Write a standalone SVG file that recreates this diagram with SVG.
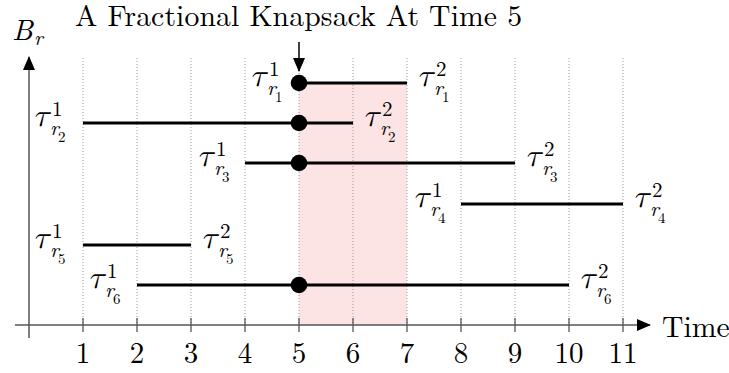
<svg xmlns="http://www.w3.org/2000/svg" width="729" height="373" viewBox="0 0 729 373" font-family="Latin Modern Roman, Liberation Serif, serif">
<style>
text{fill:#000}
.big{font-size:29.7px}
.tau{font-size:32px;font-style:italic}
.it{font-style:italic}
.s{font-size:21px}
.ss{font-size:15px}
.grid{stroke:#999;stroke-width:1;stroke-dasharray:1 2}
.axis{stroke:#555;stroke-width:1.5;fill:none}
.tick{stroke:#555;stroke-width:1.3}
.bar{stroke:#000;stroke-width:2.8}
.dot{fill:#000}
.num{font-size:29px;text-anchor:middle}
</style>
<defs>
<marker id="ah" viewBox="0 0 14 12" refX="13" refY="6" markerWidth="14" markerHeight="12" markerUnits="userSpaceOnUse" orient="auto">
<path d="M0,0 L14,6 L0,12 Z" fill="#000"/>
</marker>
</defs>
<rect id="highlight" x="299" y="83" width="108" height="242" fill="#fde4e4"/>
<g id="grid">
<line class="grid" x1="83" y1="58" x2="83" y2="325"/>
<line class="grid" x1="137" y1="58" x2="137" y2="325"/>
<line class="grid" x1="191" y1="58" x2="191" y2="325"/>
<line class="grid" x1="245" y1="58" x2="245" y2="325"/>
<line class="grid" x1="299" y1="58" x2="299" y2="325"/>
<line class="grid" x1="353" y1="58" x2="353" y2="325"/>
<line class="grid" x1="407" y1="58" x2="407" y2="325"/>
<line class="grid" x1="461" y1="58" x2="461" y2="325"/>
<line class="grid" x1="515" y1="58" x2="515" y2="325"/>
<line class="grid" x1="569" y1="58" x2="569" y2="325"/>
<line class="grid" x1="623" y1="58" x2="623" y2="325"/>
</g>
<g id="axes" font-family="Latin Modern Roman, Liberation Serif, serif">
<line class="axis" x1="15" y1="325" x2="650" y2="325" marker-end="url(#ah)"/>
<line class="axis" x1="29" y1="338" x2="29" y2="57" marker-end="url(#ah)"/>
<g class="tick">
<line x1="83" y1="318" x2="83" y2="332"/><line x1="137" y1="318" x2="137" y2="332"/><line x1="191" y1="318" x2="191" y2="332"/><line x1="245" y1="318" x2="245" y2="332"/><line x1="299" y1="318" x2="299" y2="332"/><line x1="353" y1="318" x2="353" y2="332"/><line x1="407" y1="318" x2="407" y2="332"/><line x1="461" y1="318" x2="461" y2="332"/><line x1="515" y1="318" x2="515" y2="332"/><line x1="569" y1="318" x2="569" y2="332"/><line x1="623" y1="318" x2="623" y2="332"/>
</g>
<text class="num" x="83" y="363">1</text><text class="num" x="137" y="363">2</text><text class="num" x="191" y="363">3</text><text class="num" x="245" y="363">4</text><text class="num" x="299" y="363">5</text><text class="num" x="353" y="363">6</text><text class="num" x="407" y="363">7</text><text class="num" x="461" y="363">8</text><text class="num" x="515" y="363">9</text><text class="num" x="569" y="363">10</text><text class="num" x="623" y="363">11</text>
<text class="big" x="662" y="337">Time</text>
<text><tspan class="big it" x="12" y="40">B</tspan><tspan class="s it" x="34" y="45">r</tspan></text>
</g>
<text id="title" class="big" x="75" y="26" textLength="447" lengthAdjust="spacing" font-family="Latin Modern Roman, Liberation Serif, serif">A Fractional Knapsack At Time 5</text>
<g id="r1" font-family="Latin Modern Roman, Liberation Serif, serif">
<line class="bar" x1="299" y1="83" x2="407" y2="83"/>
<circle class="dot" cx="299" cy="83" r="8.3"/>
<text><tspan class="tau" font-family="Latin Modern Math, Liberation Serif, serif" x="250" y="86">τ</tspan><tspan class="s" x="269" y="76">1</tspan><tspan class="s it" x="267" y="95">r</tspan><tspan class="ss" x="275" y="102">1</tspan></text>
<text><tspan class="tau" font-family="Latin Modern Math, Liberation Serif, serif" x="417" y="86">τ</tspan><tspan class="s" x="436" y="76">2</tspan><tspan class="s it" x="434" y="95">r</tspan><tspan class="ss" x="442" y="102">1</tspan></text>
</g>
<g id="r2" font-family="Latin Modern Roman, Liberation Serif, serif">
<line class="bar" x1="83" y1="123" x2="353" y2="123"/>
<circle class="dot" cx="299" cy="123" r="8.3"/>
<text><tspan class="tau" font-family="Latin Modern Math, Liberation Serif, serif" x="33" y="126">τ</tspan><tspan class="s" x="52" y="116">1</tspan><tspan class="s it" x="50" y="135">r</tspan><tspan class="ss" x="58" y="142">2</tspan></text>
<text><tspan class="tau" font-family="Latin Modern Math, Liberation Serif, serif" x="363" y="126">τ</tspan><tspan class="s" x="382" y="116">2</tspan><tspan class="s it" x="380" y="135">r</tspan><tspan class="ss" x="388" y="142">2</tspan></text>
</g>
<g id="r3" font-family="Latin Modern Roman, Liberation Serif, serif">
<line class="bar" x1="245" y1="163" x2="515" y2="163"/>
<circle class="dot" cx="299" cy="163" r="8.3"/>
<text><tspan class="tau" font-family="Latin Modern Math, Liberation Serif, serif" x="197" y="166">τ</tspan><tspan class="s" x="216" y="156">1</tspan><tspan class="s it" x="214" y="175">r</tspan><tspan class="ss" x="222" y="182">3</tspan></text>
<text><tspan class="tau" font-family="Latin Modern Math, Liberation Serif, serif" x="525" y="166">τ</tspan><tspan class="s" x="544" y="156">2</tspan><tspan class="s it" x="542" y="175">r</tspan><tspan class="ss" x="550" y="182">3</tspan></text>
</g>
<g id="r4" font-family="Latin Modern Roman, Liberation Serif, serif">
<line class="bar" x1="461" y1="204" x2="623" y2="204"/>
<text><tspan class="tau" font-family="Latin Modern Math, Liberation Serif, serif" x="413" y="207">τ</tspan><tspan class="s" x="432" y="197">1</tspan><tspan class="s it" x="430" y="216">r</tspan><tspan class="ss" x="438" y="223">4</tspan></text>
<text><tspan class="tau" font-family="Latin Modern Math, Liberation Serif, serif" x="633" y="207">τ</tspan><tspan class="s" x="652" y="197">2</tspan><tspan class="s it" x="650" y="216">r</tspan><tspan class="ss" x="658" y="223">4</tspan></text>
</g>
<g id="r5" font-family="Latin Modern Roman, Liberation Serif, serif">
<line class="bar" x1="83" y1="245" x2="191" y2="245"/>
<text><tspan class="tau" font-family="Latin Modern Math, Liberation Serif, serif" x="33" y="248">τ</tspan><tspan class="s" x="52" y="238">1</tspan><tspan class="s it" x="50" y="257">r</tspan><tspan class="ss" x="58" y="264">5</tspan></text>
<text><tspan class="tau" font-family="Latin Modern Math, Liberation Serif, serif" x="201" y="248">τ</tspan><tspan class="s" x="220" y="238">2</tspan><tspan class="s it" x="218" y="257">r</tspan><tspan class="ss" x="226" y="264">5</tspan></text>
</g>
<g id="r6" font-family="Latin Modern Roman, Liberation Serif, serif">
<line class="bar" x1="137" y1="285" x2="569" y2="285"/>
<circle class="dot" cx="299" cy="285" r="8.3"/>
<text><tspan class="tau" font-family="Latin Modern Math, Liberation Serif, serif" x="88" y="288">τ</tspan><tspan class="s" x="107" y="278">1</tspan><tspan class="s it" x="105" y="297">r</tspan><tspan class="ss" x="113" y="304">6</tspan></text>
<text><tspan class="tau" font-family="Latin Modern Math, Liberation Serif, serif" x="579" y="288">τ</tspan><tspan class="s" x="598" y="278">2</tspan><tspan class="s it" x="596" y="297">r</tspan><tspan class="ss" x="604" y="304">6</tspan></text>
</g>
<g id="connectors">
<line x1="299" y1="42" x2="299" y2="71" stroke="#000" stroke-width="1.5" marker-end="url(#ah)"/>
</g>
</svg>
